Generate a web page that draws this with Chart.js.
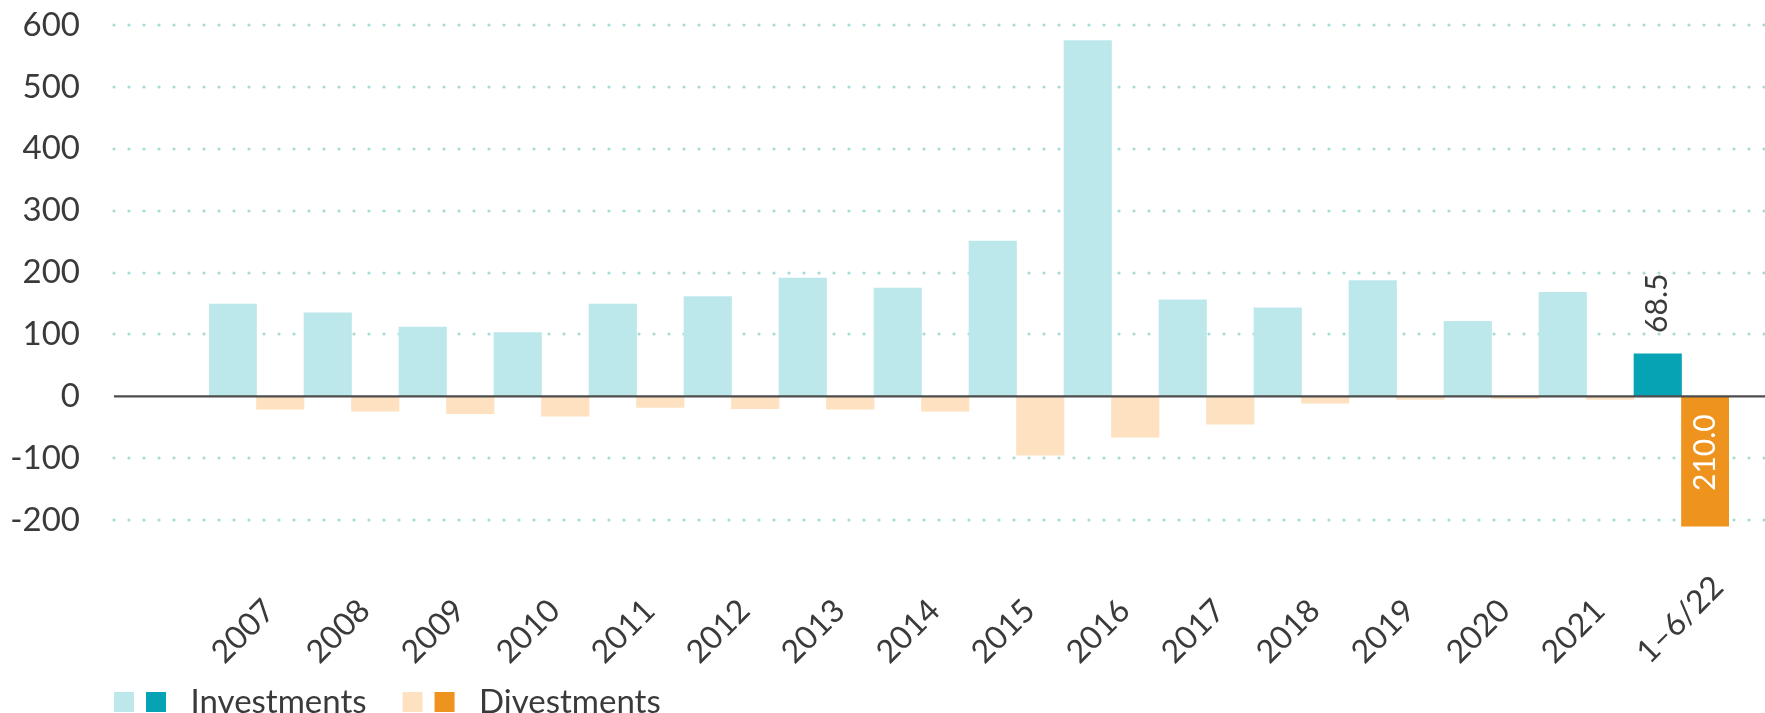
<!DOCTYPE html>
<html>
<head>
<meta charset="utf-8">
<script src="https://cdn.jsdelivr.net/npm/chart.js@4"></script>
<style>
    html, body { margin: 0; padding: 0; background: #fff; }
    #wrap { width: 1765px; height: 713px; }
</style>
</head>
<body>
<div id="wrap"><canvas id="flows"></canvas></div>
<script>
const labels = ['2007', '2008', '2009', '2010', '2011', '2012', '2013', '2014',
    '2015', '2016', '2017', '2018', '2019', '2020', '2021', '1–6/22'];
const investments = [149, 135, 112, 103, 149, 161, 191, 175, 251, 575, 156, 143, 187, 121, 168, 68.5];
const divestments = [-21, -24, -28, -32, -18, -20, -21, -24, -95, -66, -45, -11, -5, -4, -5, -210];
const yTicks = [-200, -100, 0, 100, 200, 300, 400, 500, 600];

const invLight = '#bde8eb', invDark = '#05a3b3';
const divLight = '#fde1c0', divDark = '#ee931d';
const textColor = '#3a3a3a';
const family = 'Lato';
const last = labels.length - 1;
const swatchLead = 26;

// last period is highlighted in the darker shade
function barColors(light, dark) {
    return labels.map((l, i) => i === last ? dark : light);
}

// two little squares per legend entry, with some blank room in front
function legendSwatch(light, dark) {
    let c = document.createElement('canvas');
    c.width = swatchLead + 60;
    c.height = 20;
    let g = c.getContext('2d');
    g.fillStyle = light;
    g.fillRect(swatchLead, 0, 20, 20);
    g.fillStyle = dark;
    g.fillRect(swatchLead + 32, 0, 20, 20);
    return c;
}
const swatches = [legendSwatch(invLight, invDark), legendSwatch(divLight, divDark)];

function gridLeft(chart) {
    let x = chart.scales.x;
    return x.left - x.width / labels.length;
}

const dottedGrid = {
    id: 'dottedGrid',
    afterLayout(chart) {
        // legend lines up with the start of the grid
        let lg = chart.legend;
        lg.left = gridLeft(chart) - swatchLead - lg.options.labels.padding;
    },
    beforeDatasetsDraw(chart) {
        const {ctx, scales: {y}} = chart;
        const left = gridLeft(chart);
        ctx.save();
        ctx.strokeStyle = '#a6dbd6';
        ctx.lineWidth = 3.2;
        ctx.lineCap = 'round';
        ctx.setLineDash([0, 15]);
        yTicks.forEach((v) => {
            if (v === 0) return;
            let py = Math.round(y.getPixelForValue(v));
            ctx.beginPath();
            ctx.moveTo(left, py);
            ctx.lineTo(chart.width, py);
            ctx.stroke();
        });
        ctx.restore();
    },
    afterDatasetsDraw(chart) {
        const {ctx, chartArea, scales: {x, y}} = chart;
        let py = y.getPixelForValue(0);
        ctx.save();
        ctx.strokeStyle = '#4d4d4d';
        ctx.lineWidth = 2.2;
        ctx.beginPath();
        ctx.moveTo(gridLeft(chart), py);
        ctx.lineTo(chart.width, py);
        ctx.stroke();

        // category labels: slanted, all starting from the same baseline
        ctx.font = '32px ' + family;
        ctx.fillStyle = textColor;
        ctx.textAlign = 'left';
        ctx.textBaseline = 'alphabetic';
        labels.forEach((lab, i) => {
            ctx.save();
            ctx.translate(x.getPixelForTick(i) - 32, chartArea.bottom + 114);
            ctx.rotate(-Math.PI / 4);
            ctx.fillText(lab, 0, 0);
            ctx.restore();
        });

        // value labels on the last period
        let inv = chart.getDatasetMeta(0).data[last];
        let div = chart.getDatasetMeta(1).data[last];
        ctx.font = '30px ' + family;
        ctx.textBaseline = 'middle';

        ctx.save();
        ctx.translate(inv.x, inv.y - 21);
        ctx.rotate(-Math.PI / 2);
        ctx.textAlign = 'left';
        ctx.fillStyle = textColor;
        ctx.fillText(investments[last].toFixed(1), 0, 0);
        ctx.restore();

        ctx.save();
        ctx.translate(div.x, div.base + 18);
        ctx.rotate(-Math.PI / 2);
        ctx.textAlign = 'right';
        ctx.fillStyle = '#ffffff';
        ctx.fillText(Math.abs(divestments[last]).toFixed(1), 0, 0);
        ctx.restore();

        ctx.restore();
    }
};

new Chart(document.getElementById('flows'), {
    type: 'bar',
    data: {
        labels: labels,
        datasets: [{
                label: 'Investments',
                data: investments,
                backgroundColor: barColors(invLight, invDark),
                categoryPercentage: 1,
                barPercentage: 1
            }, {
                label: 'Divestments',
                data: divestments,
                backgroundColor: barColors(divLight, divDark),
                categoryPercentage: 1,
                barPercentage: 1
            }]
    },
    options: {
        responsive: true,
        maintainAspectRatio: false,
        animation: false,
        devicePixelRatio: 1,
        layout: {
            padding: {top: 25, left: 0, right: 36, bottom: -15.5}
        },
        scales: {
            x: {
                grid: {display: false},
                border: {display: false},
                ticks: {display: false},
                afterFit: (s) => { s.height = 124.5; }
            },
            y: {
                min: -250,
                max: 600,
                grid: {display: false, drawTicks: false},
                border: {display: false},
                ticks: {
                    padding: 129,
                    color: textColor,
                    font: {family: family, size: 33}
                },
                afterBuildTicks: (s) => { s.ticks = yTicks.map((v) => ({value: v})); },
                afterFit: (s) => {
                    s.width = 209;
                    s.paddingTop = 0;
                    s.paddingBottom = 0;
                }
            }
        },
        plugins: {
            tooltip: {enabled: false},
            legend: {
                position: 'bottom',
                align: 'start',
                labels: {
                    usePointStyle: true,
                    pointStyleWidth: swatchLead + 60,
                    padding: 10,
                    color: textColor,
                    font: {family: family, size: 33},
                    generateLabels: (chart) => chart.data.datasets.map((ds, i) => ({
                            text: ds.label,
                            pointStyle: swatches[i],
                            datasetIndex: i,
                            hidden: false,
                            lineWidth: 0,
                            strokeStyle: 'rgba(0,0,0,0)',
                            fillStyle: 'rgba(0,0,0,0)',
                            fontColor: textColor
                        }))
                }
            }
        }
    },
    plugins: [dottedGrid]
});
</script>
</body>
</html>
